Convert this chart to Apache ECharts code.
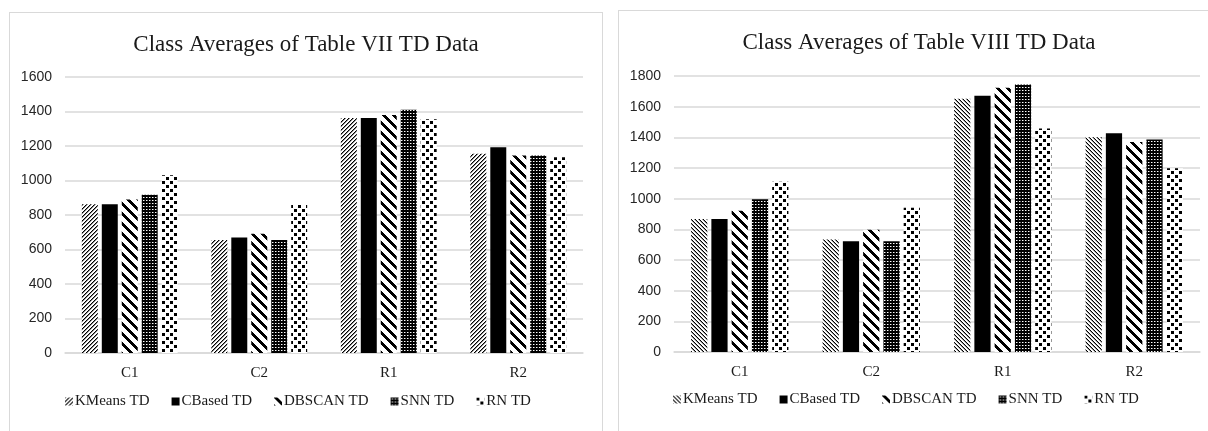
<!DOCTYPE html>
<html>
<head>
<meta charset="utf-8">
<script src="https://cdn.jsdelivr.net/npm/echarts@6/dist/echarts.min.js"></script>
<style>
  html, body { margin:0; padding:0; background:#fff; width:1208px; height:431px; overflow:hidden; position:relative; }
  .panel { position:absolute; border:1px solid #d9d9d9; background:#fff; }
  #c1 { left:9px; top:12px; width:592px; height:430px; }
  #c2 { left:618px; top:10px; width:600px; height:430px; }
</style>
</head>
<body>
<div id="c1" class="panel"></div>
<div id="c2" class="panel"></div>
<script>
// ---- Data ----
const categories = ['C1', 'C2', 'R1', 'R2'];
const seriesNames = ['KMeans TD', 'CBased TD', 'DBSCAN TD', 'SNN TD', 'RN TD'];

const titleVII = 'Class Averages of Table VII TD Data';
const titleVIII = 'Class Averages of Table VIII TD Data';

// Table VII TD class averages
const vii_KMeans = [862, 655, 1362, 1155];
const vii_CBased = [863, 670, 1362, 1193];
const vii_DBSCAN = [890, 692, 1380, 1145];
const vii_SNN    = [918, 655, 1410, 1145];
const vii_RN     = [1030, 862, 1355, 1135];

// Table VIII TD class averages
const viii_KMeans = [868, 733, 1652, 1400];
const viii_CBased = [868, 722, 1671, 1427];
const viii_DBSCAN = [922, 798, 1724, 1369];
const viii_SNN    = [997, 722, 1744, 1386];
const viii_RN     = [1110, 940, 1458, 1198];

const yTicksVII = [0, 200, 400, 600, 800, 1000, 1200, 1400, 1600];
const yTicksVIII = [0, 200, 400, 600, 800, 1000, 1200, 1400, 1600, 1800];

// ---- Fill patterns ----
function tile(w, h, fn) {
  const c = document.createElement('canvas');
  c.width = w; c.height = h;
  const ctx = c.getContext('2d');
  ctx.fillStyle = '#fff';
  ctx.fillRect(0, 0, w, h);
  fn(ctx, w, h);
  return c;
}
function px(ctx, x, y, col, s) { ctx.fillStyle = col; ctx.fillRect(x, y, s || 1, s || 1); }

const patFineUp = tile(4, 4, (ctx) => {
  for (let i = 0; i < 4; i++) { px(ctx, i, 3 - i, '#000'); px(ctx, i, (4 - i) % 4, '#888'); }
});
const patFineDown = tile(4, 4, (ctx) => {
  for (let i = 0; i < 4; i++) { px(ctx, i, i, '#000'); px(ctx, i, (i + 1) % 4, '#999'); }
});
const patWideDown = tile(10, 10, (ctx) => {
  for (let x = 0; x < 10; x++) for (let y = 0; y < 10; y++) {
    if (((x - y + 10) % 10) < 4) px(ctx, x, y, '#000');
  }
});
const patGrid = tile(3, 3, (ctx) => {
  ctx.fillStyle = '#000'; ctx.fillRect(0, 0, 3, 3);
  px(ctx, 1, 1, '#fff');
  px(ctx, 2, 1, '#777');
});
const patDots = tile(8, 8, (ctx) => {
  px(ctx, 0, 0, '#000', 3);
  px(ctx, 4, 4, '#000', 3);
});

function pat(c) { return { image: c, repeat: 'repeat' }; }
const solidBlack = '#000000';

function buildOption(titleText, yMax, values, fills, gridCfg, legendLeft) {
  return {
    animation: false,
    title: {
      text: titleText,
      left: 'center',
      top: 15,
      textStyle: { fontFamily: 'Liberation Serif', fontSize: 23, fontWeight: 'normal', color: '#1a1a1a' }
    },
    legend: {
      data: seriesNames,
      left: legendLeft,
      top: 376,
      itemWidth: 8,
      itemHeight: 8,
      itemGap: 22,
      icon: 'rect',
      textStyle: { fontFamily: 'Liberation Serif', fontSize: 15, color: '#1a1a1a', padding: [0, 0, 0, -3] }
    },
    grid: gridCfg,
    xAxis: {
      type: 'category',
      data: categories,
      axisTick: { show: false },
      axisLine: { show: true, lineStyle: { color: '#d9d9d9', width: 1.5 } },
      axisLabel: { margin: 13, fontFamily: 'Liberation Serif', fontSize: 15, color: '#1a1a1a' }
    },
    yAxis: {
      type: 'value',
      min: 0,
      max: yMax,
      interval: 200,
      axisLine: { show: false },
      axisTick: { show: false },
      splitLine: { lineStyle: { color: '#d9d9d9', width: 1.5 } },
      axisLabel: {
        margin: 13, fontFamily: 'Liberation Sans', fontSize: 14, color: '#262626',
        formatter: (v) => String(v)
      }
    },
    series: seriesNames.map((name, i) => ({
      name: name,
      type: 'bar',
      data: values[i],
      barGap: '25%',
      barCategoryGap: '26%',
      itemStyle: { color: fills[i] },
      emphasis: { disabled: true }
    }))
  };
}

const chart1 = echarts.init(document.getElementById('c1'), null, { renderer: 'canvas' });
chart1.setOption(buildOption(
  titleVII, yTicksVII[yTicksVII.length - 1],
  [vii_KMeans, vii_CBased, vii_DBSCAN, vii_SNN, vii_RN],
  [pat(patFineUp), solidBlack, pat(patWideDown), pat(patGrid), pat(patDots)],
  { left: 55, top: 64, width: 518, height: 276 },
  50
));

const chart2 = echarts.init(document.getElementById('c2'), null, { renderer: 'canvas' });
chart2.setOption(buildOption(
  titleVIII, yTicksVIII[yTicksVIII.length - 1],
  [viii_KMeans, viii_CBased, viii_DBSCAN, viii_SNN, viii_RN],
  [pat(patFineDown), solidBlack, pat(patWideDown), pat(patGrid), pat(patDots)],
  { left: 55, top: 65, width: 526, height: 276 },
  49
));
</script>
</body>
</html>
